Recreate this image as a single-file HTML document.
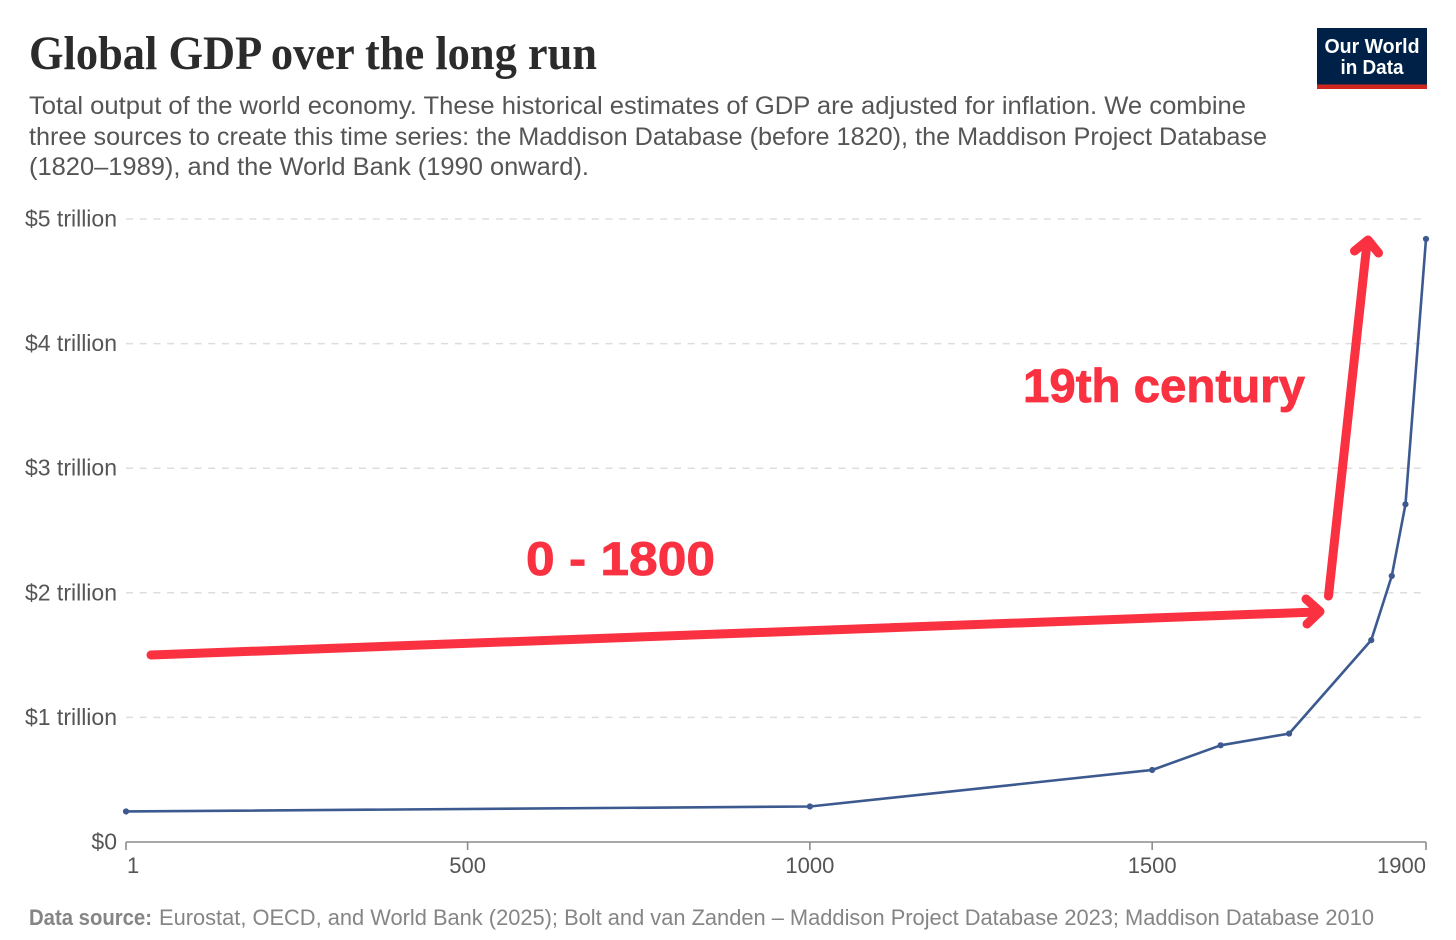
<!DOCTYPE html>
<html lang="en">
<head>
<meta charset="utf-8">
<title>Global GDP over the long run</title>
<style>
html,body{margin:0;padding:0;background:#fff;width:1456px;height:940px;overflow:hidden}
svg{display:block;font-family:"Liberation Sans",sans-serif}
</style>
</head>
<body>
<svg id="chart" width="1456" height="940" viewBox="0 0 1456 940" xmlns="http://www.w3.org/2000/svg">
  <rect width="1456" height="940" fill="#fff"/>
  <text x="29" y="69" font-family="'Liberation Serif',serif" font-weight="700" font-size="48" fill="#2b2b2b" textLength="568" lengthAdjust="spacingAndGlyphs">Global GDP over the long run</text>
  <g font-size="25" fill="#555">
    <text x="29" y="114" textLength="1217" lengthAdjust="spacingAndGlyphs">Total output of the world economy. These historical estimates of GDP are adjusted for inflation. We combine</text>
    <text x="29" y="145" textLength="1238" lengthAdjust="spacingAndGlyphs">three sources to create this time series: the Maddison Database (before 1820), the Maddison Project Database</text>
    <text x="29" y="175" textLength="560" lengthAdjust="spacingAndGlyphs">(1820–1989), and the World Bank (1990 onward).</text>
  </g>
  <g>
    <rect x="1317" y="28" width="110" height="61" fill="#002147"/>
    <rect x="1317" y="84.5" width="110" height="4.5" fill="#ce261e"/>
    <text x="1372" y="53" text-anchor="middle" font-size="20.5" font-weight="700" fill="#fff" textLength="95" lengthAdjust="spacingAndGlyphs">Our World</text>
    <text x="1372" y="74" text-anchor="middle" font-size="20.5" font-weight="700" fill="#fff" textLength="63" lengthAdjust="spacingAndGlyphs">in Data</text>
  </g>
  <g id="grid"></g>
  <g id="yaxis"></g>
  <g id="xaxis"></g>
  <g id="series"></g>
  <g fill="none" stroke="#f93141" stroke-linecap="round" stroke-linejoin="round">
    <path stroke-width="9" d="M151 655 L1316 612"/>
    <path stroke-width="9" d="M1306 599 L1320 611.5 L1307 624"/>
    <path stroke-width="9" d="M1328.5 596 L1367 243"/>
    <path stroke-width="9" d="M1354.5 251 L1368 240 L1378.5 253"/>
  </g>
  <text x="526" y="575" font-size="47" font-weight="700" fill="#f93141" stroke="#f93141" stroke-width="0.8" textLength="189" lengthAdjust="spacingAndGlyphs">0 - 1800</text>
  <text x="1023" y="402" font-size="47" font-weight="700" fill="#f93141" stroke="#f93141" stroke-width="0.8" textLength="282" lengthAdjust="spacingAndGlyphs">19th century</text>
  <text font-size="22" fill="#858585" y="925">
    <tspan x="29" font-weight="700" textLength="123" lengthAdjust="spacingAndGlyphs">Data source:</tspan>
    <tspan x="159" textLength="1215" lengthAdjust="spacingAndGlyphs">Eurostat, OECD, and World Bank (2025); Bolt and van Zanden – Maddison Project Database 2023; Maddison Database 2010</tspan>
  </text>
</svg>
<script>
const years = [1, 1000, 1500, 1600, 1700, 1820, 1850, 1870, 1900];
const gdpTrillions = [0.245, 0.285, 0.578, 0.776, 0.87, 1.62, 2.135, 2.71, 4.84];
const yTickValues = [0, 1, 2, 3, 4, 5];
const yTickLabels = ['$0', '$1 trillion', '$2 trillion', '$3 trillion', '$4 trillion', '$5 trillion'];
const xTickValues = [1, 500, 1000, 1500, 1900];
const xTickLabels = ['1', '500', '1000', '1500', '1900'];

const NS = 'http://www.w3.org/2000/svg';
const xScale = function (year) { return 126 + (year - 1) * (1426 - 126) / (1900 - 1); };
const yScale = function (v) { return 842 - v * (842 - 219) / 5; };
function make(tag, attrs, parent) {
  const el = document.createElementNS(NS, tag);
  for (const k in attrs) { el.setAttribute(k, attrs[k]); }
  parent.appendChild(el);
  return el;
}
const gridG = document.getElementById('grid');
const yG = document.getElementById('yaxis');
const xG = document.getElementById('xaxis');
const seriesG = document.getElementById('series');

yTickValues.forEach(function (v, i) {
  if (v !== 0) {
    const line = make('line', {x1: 126, x2: 1421, y1: yScale(v), y2: yScale(v), stroke: '#ddd', 'stroke-width': 1.5, 'stroke-dasharray': '7 6.7'}, gridG);
    
    
  }
  const label = make('text', {x: 117, y: yScale(v) + 7.5, 'text-anchor': 'end', 'font-size': 23, fill: '#555'}, yG);
  label.textContent = yTickLabels[i];
  
  
});

const axisLine = make('line', {x1: 126, x2: 1426, y1: 842, y2: 842, stroke: '#8c8c8c', 'stroke-width': 1.6}, xG);



xTickValues.forEach(function (v, i) {
  const px = xScale(v);
  const tick = make('line', {x1: px, x2: px, y1: 842, y2: 850, stroke: '#8c8c8c', 'stroke-width': 1.6}, xG);
  
  
  const first = i === 0;
  const last = i === xTickValues.length - 1;
  const label = make('text', {x: first ? px + 1 : px, y: 873, 'text-anchor': first ? 'start' : (last ? 'end' : 'middle'), 'font-size': 22, fill: '#555'}, xG);
  label.textContent = xTickLabels[i];
  
  
});

const pts = years.map(function (y, i) { return xScale(y) + ',' + yScale(gdpTrillions[i]); }).join(' ');
const poly = make('polyline', {points: pts, fill: 'none', stroke: '#3c5a8f', 'stroke-width': 2.6, 'stroke-linejoin': 'round'}, seriesG);



years.forEach(function (y, i) {
  const dot = make('circle', {cx: xScale(y), cy: yScale(gdpTrillions[i]), r: 3.1, fill: '#3c5a8f'}, seriesG);
  
  
});
</script>
</body>
</html>
